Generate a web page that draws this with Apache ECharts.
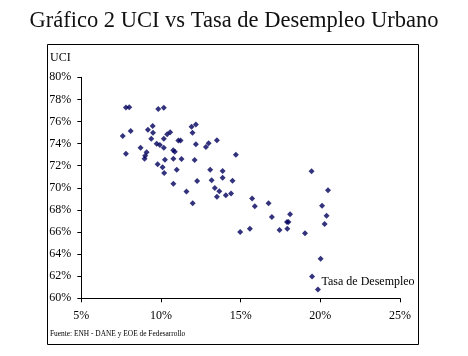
<!DOCTYPE html>
<html>
<head>
<meta charset="utf-8">
<script src="https://cdn.jsdelivr.net/npm/echarts@6/dist/echarts.min.js"></script>
<style>html,body{margin:0;padding:0;background:#fff;}#c{width:468px;height:356px;}</style>
</head>
<body>
<div id="c"></div>
<script>
// Tasa de Desempleo Urbano (%)
var desempleo = [7.80,8.01,9.83,10.18,7.60,8.10,9.18,9.48,9.50,9.39,10.58,10.39,10.18,9.73,9.93,11.09,11.23,8.72,7.80,9.10,9.01,8.97,10.18,10.77,10.87,10.25,10.78,9.79,11.29,10.10,10.20,10.99,10.78,11.92,12.19,11.98,12.19,12.99,12.82,13.51,12.11,14.70,13.09,13.87,13.18,13.87,14.49,12.27,11.60,13.38,13.66,13.51,14.07,14.40,11.99,15.72,15.89,16.75,16.96,18.10,17.91,18.00,17.93,17.44,15.58,14.97,19.04,19.45,20.48,20.11,20.39,20.27,20.02,19.48,19.85];
// UCI (%)
var uci = [77.27,77.29,77.13,77.25,74.69,75.14,75.26,75.59,74.99,74.44,75.02,74.84,74.44,73.99,73.87,74.28,74.28,73.63,73.09,73.21,72.90,72.63,73.63,73.39,73.27,72.54,72.63,72.13,72.61,71.86,71.34,71.63,70.37,75.53,75.73,74.99,73.95,74.03,73.69,74.30,72.52,73.00,71.64,71.52,70.68,70.91,70.63,70.62,69.67,69.98,69.68,69.19,69.33,69.48,68.61,69.03,68.33,68.60,67.36,67.60,66.90,66.90,66.29,66.18,66.30,66.00,65.89,71.50,69.78,68.38,67.48,66.72,63.58,61.97,60.79];
var titulo = 'Gráfico 2 UCI vs Tasa de Desempleo Urbano';
var fuente = 'Fuente: ENH - DANE y EOE de Fedesarrollo';
var nombreX = 'Tasa de Desempleo';
var nombreY = 'UCI';

var puntos = desempleo.map(function(x, i){ return [x, uci[i]]; });
var serif = '"Liberation Serif","Times New Roman",serif';

var chart = echarts.init(document.getElementById('c'));
chart.setOption({
  animation: false,
  backgroundColor: '#ffffff',
  title: {
    text: titulo, left: 'center', top: 5,
    textStyle: { fontFamily: serif, fontSize: 22.5, fontWeight: 'normal', color: '#111' }
  },
  grid: { left: 81.3, right: 68, top: 77.3, bottom: 57.7 },
  xAxis: {
    type: 'value', min: 5, max: 25, interval: 5,
    axisLine: { lineStyle: { color: '#000', width: 1 } },
    axisTick: { show: true, length: 4, lineStyle: { color: '#000' } },
    splitLine: { show: false },
    axisLabel: { formatter: '{value}%', fontFamily: serif, fontSize: 12, color: '#000', margin: 12 }
  },
  yAxis: {
    type: 'value', min: 60, max: 80, interval: 2,
    axisLine: { show: true, lineStyle: { color: '#000', width: 1 } },
    axisTick: { show: true, length: 4, lineStyle: { color: '#000' } },
    splitLine: { show: false },
    axisLabel: { formatter: '{value}%', fontFamily: serif, fontSize: 12, color: '#000', margin: 10 }
  },
  series: [{
    type: 'scatter',
    data: puntos,
    symbol: 'diamond',
    symbolSize: 6,
    itemStyle: { color: '#00005c' }
  }],
  graphic: [
    { type: 'rect', shape: { x: 47.5, y: 44.5, width: 371, height: 300 }, style: { fill: 'none', stroke: '#000', lineWidth: 1 }, z: -1 },
    { type: 'text', left: 50, top: 52, style: { text: nombreY, font: '12px ' + serif, fill: '#000' } },
    { type: 'text', left: 321.5, top: 276, style: { text: nombreX, font: '12px ' + serif, fill: '#000' } },
    { type: 'text', left: 50, top: 331, style: { text: fuente, font: '7.4px ' + serif, fill: '#000' } }
  ]
});
</script>
</body>
</html>
